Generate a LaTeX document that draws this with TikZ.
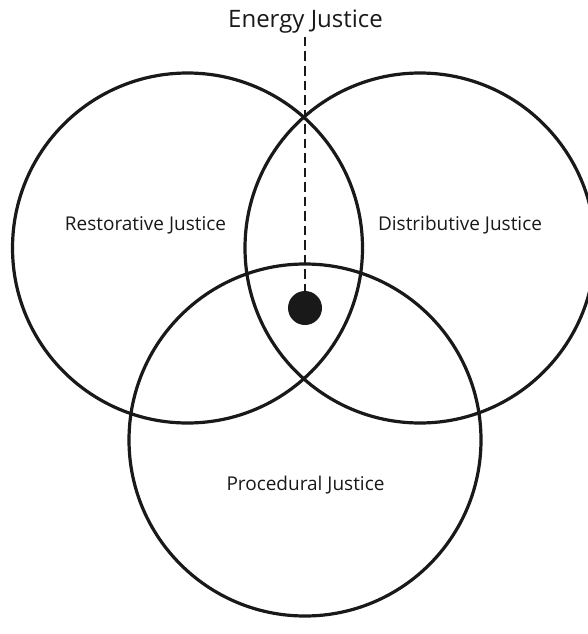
\documentclass[tikz,border=0pt]{standalone}
\usepackage{fontspec}
\setmainfont{Open Sans}
\begin{document}
\begin{tikzpicture}[x=1pt,y=-1pt,
  ring/.style={draw=black!90, line width=3.2pt, circle, inner sep=0pt},
  lbl/.style={text=black!90, font=\fontsize{19}{22}\selectfont, inner sep=0pt},
  ttl/.style={text=black!90, font=\fontsize{24}{28}\selectfont, inner sep=0pt},
  dotnode/.style={fill=black!90, circle, minimum size=34pt, inner sep=0pt},
  conn/.style={draw=black!90, line width=2.8pt, dash pattern=on 9.5pt off 5pt}]
\useasboundingbox (0,0) rectangle (587,634);
\node[ring, minimum size=350pt] (rest) at (187.5,248) {};
\node[ring, minimum size=350pt] (dist) at (420,248) {};
\node[ring, minimum size=352pt] (proc) at (305,440) {};
\node[lbl] (restl) at (145.5,225) {Restorative Justice};
\node[lbl] (distl) at (460,225) {Distributive Justice};
\node[lbl] (procl) at (305.5,485) {Procedural Justice};
\node[ttl] (title) at (305.5,22) {Energy Justice};
\node[dotnode] (dot) at (305,308) {};
\coordinate (top) at (305,37);
\draw[conn] (top) -- (dot.north);
\end{tikzpicture}
\end{document}
